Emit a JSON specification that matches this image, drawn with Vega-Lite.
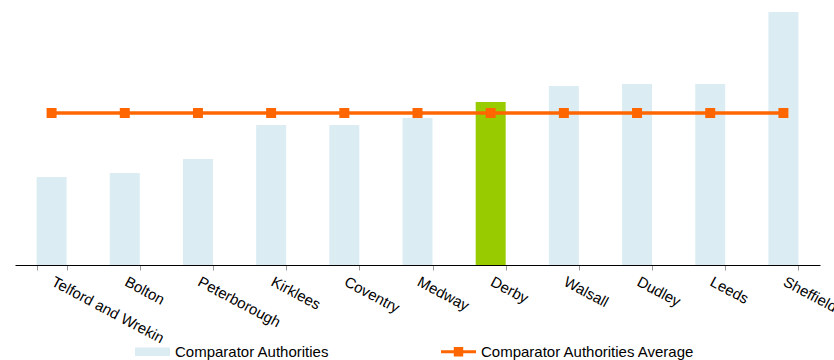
{
  "$schema": "https://vega.github.io/schema/vega-lite/v6.json",
  "width": 805,
  "height": 265,
  "autosize": {"type": "none"},
  "padding": {"left": 15, "top": 0, "right": 14, "bottom": 95},
  "config": {"view": {"stroke": null}, "font": "Liberation Sans"},
  "data": {"values": [
    {"name": "Telford and Wrekin", "value": 88, "avg": 152},
    {"name": "Bolton", "value": 92, "avg": 152},
    {"name": "Peterborough", "value": 106, "avg": 152},
    {"name": "Kirklees", "value": 140, "avg": 152},
    {"name": "Coventry", "value": 140, "avg": 152},
    {"name": "Medway", "value": 147, "avg": 152},
    {"name": "Derby", "value": 163, "avg": 152},
    {"name": "Walsall", "value": 179, "avg": 152},
    {"name": "Dudley", "value": 181, "avg": 152},
    {"name": "Leeds", "value": 181, "avg": 152},
    {"name": "Sheffield", "value": 253, "avg": 152}
  ]},
  "encoding": {
    "x": {
      "field": "name", "type": "nominal", "sort": null, "title": null,
      "scale": {"paddingInner": 0.59, "paddingOuter": 0.295},
      "axis": {
        "tickBand": "extent", "domainColor": "#000000", "domainWidth": 1,
        "tickColor": "#999999", "tickSize": 5, "labelAngle": 28, "labelAlign": "left",
        "labelBaseline": "top", "labelPadding": 4, "labelOffset": 4, "labelFontSize": 15,
        "labelColor": "#000000", "labelLimit": 300
      }
    }
  },
  "layer": [
    {
      "mark": {"type": "bar"},
      "encoding": {
        "y": {"field": "value", "type": "quantitative", "scale": {"domain": [0, 265], "nice": false}, "axis": null},
        "color": {
          "condition": {"test": "datum.name === 'Derby'", "value": "#99cc00"},
          "datum": "Comparator Authorities",
          "type": "nominal",
          "scale": {"domain": ["Comparator Authorities", "Comparator Authorities Average"], "range": ["#dbedf3", "#ff6600"]},
          "legend": {
            "title": null, "orient": "none", "legendX": 120, "legendY": 334,
            "direction": "horizontal", "columnPadding": 111, "labelOffset": 5,
            "labelFontSize": 15, "labelColor": "#000000", "symbolSize": 1225, "labelLimit": 400,
            "encode": {"symbols": {"update": {
              "shape": {"signal": "datum.value === 'Comparator Authorities' ? 'M-1,-0.24H1V0.24H-1Z' : 'M-1,-0.09H1V0.09H-1Z M-0.27,-0.27H0.27V0.27H-0.27Z'"},
              "fill": {"signal": "datum.value === 'Comparator Authorities' ? '#dbedf3' : '#ff6600'"},
              "stroke": {"value": "transparent"},
              "strokeWidth": {"value": 0},
              "opacity": {"value": 1}
            }}}
          }
        }
      }
    },
    {
      "mark": {"type": "line", "strokeWidth": 3.5, "point": {"shape": "square", "size": 100, "filled": true, "opacity": 1}},
      "encoding": {
        "y": {"field": "avg", "type": "quantitative"},
        "color": {"datum": "Comparator Authorities Average", "type": "nominal"}
      }
    }
  ]
}
